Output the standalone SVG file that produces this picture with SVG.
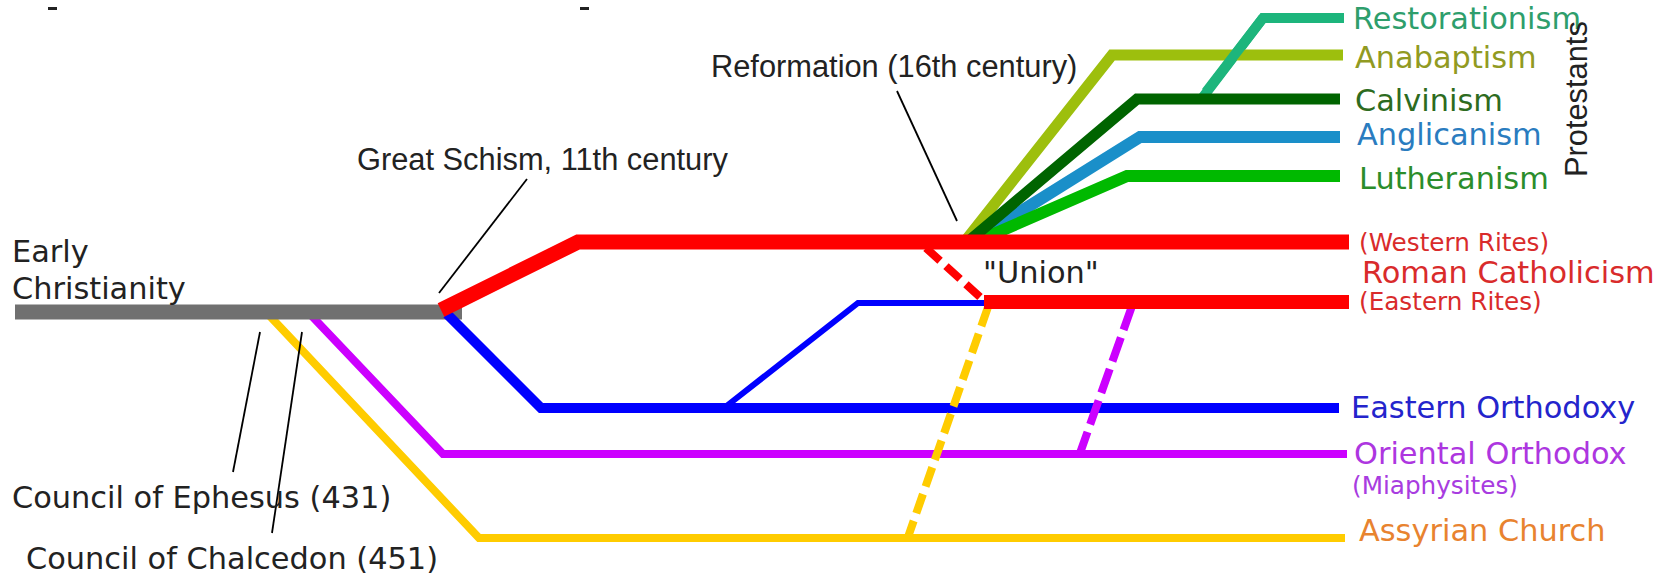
<svg xmlns="http://www.w3.org/2000/svg" width="1671" height="576" viewBox="0 0 1671 576">
<style>
.ln{fill:none;stroke-linejoin:miter;stroke-linecap:butt}
.ld{fill:none;stroke:#000;stroke-width:1.8}
.dv{font-family:"DejaVu Sans",sans-serif;font-size:30.4px}
.sm{font-family:"DejaVu Sans",sans-serif;font-size:24.7px}
.ls{font-family:"Liberation Sans",Arial,sans-serif;font-size:30.8px;fill:#222}
.bk{fill:#222}
</style>
<rect width="1671" height="576" fill="#fff"/>
<rect x="48" y="7" width="9" height="3" fill="#222"/>
<rect x="580" y="7" width="9" height="3" fill="#222"/>
<g id="connectors">
  <path class="ln" d="M266,312 L479,538 L1345,538" stroke="#ffcc00" stroke-width="8"/>
  <path class="ln" d="M308,312 L443,454 L1347,454" stroke="#cc00ff" stroke-width="8"/>
  <path class="ln" d="M15,312 L462,312" stroke="#707070" stroke-width="15"/>
  <path class="ln" d="M447,314 L541,408 L1339,408" stroke="#0000ff" stroke-width="10"/>
  <path class="ln" d="M724,408 L858,303 L986,303" stroke="#0000ff" stroke-width="6"/>
  <path class="ln" d="M988,307 L907,540" stroke="#ffcc00" stroke-width="8" stroke-dasharray="20.3 8"/>
  <path class="ln" d="M1132,306 L1079,456" stroke="#cc00ff" stroke-width="8" stroke-dasharray="25.4 8"/>
  <path class="ln" d="M1203,97 L1263,18 L1344,18" stroke="#1db57c" stroke-width="10"/>
  <path class="ln" d="M966,240 L1112,55 L1343,55" stroke="#9dbf0d" stroke-width="11"/>
  <path class="ln" d="M1206,92 L1263,18" stroke="#1db57c" stroke-width="10"/>
  <path class="ln" d="M975,240 L1140,137 L1340,137" stroke="#1a8fc9" stroke-width="12"/>
  <path class="ln" d="M980,240 L1127,176 L1340,176" stroke="#00b900" stroke-width="12"/>
  <path class="ln" d="M970,240 L1137,99 L1340,99" stroke="#006400" stroke-width="11"/>
  <path class="ln" d="M441,310 L578,242 L1349,242" stroke="#ff0000" stroke-width="15"/>
  <path class="ln" d="M984,302 L1349,302" stroke="#ff0000" stroke-width="14"/>
  <path class="ln" d="M926,248 L980,297" stroke="#ff0000" stroke-width="8" stroke-dasharray="19 8"/>
  <path class="ld" d="M527,179 L439,293"/>
  <path class="ld" d="M897,91 L957,221"/>
  <path class="ld" d="M260,332 L233,472"/>
  <path class="ld" d="M302,332 L272,533"/>
</g>
<g id="early"><text class="dv bk" x="12" y="262">Early</text><text class="dv bk" x="12" y="299">Christianity</text></g>
<g id="ephesus"><text class="dv bk" x="12" y="508">Council of Ephesus (431)</text></g>
<g id="chalcedon"><text class="dv bk" x="26" y="569">Council of Chalcedon (451)</text></g>
<g id="schism"><text class="ls" x="357" y="170">Great Schism, 11th century</text></g>
<g id="reformation"><text class="ls" x="711" y="77">Reformation (16th century)</text></g>
<g id="union"><text class="dv bk" x="983" y="283">"Union"</text></g>
<g id="restorationism"><text class="dv" x="1353" y="29" fill="#2e9e6c">Restorationism</text></g>
<g id="anabaptism"><text class="dv" x="1355" y="68" fill="#919a22">Anabaptism</text></g>
<g id="calvinism"><text class="dv" x="1355" y="111" fill="#2d6b20">Calvinism</text></g>
<g id="anglicanism"><text class="dv" x="1357" y="145" fill="#2a7cbf">Anglicanism</text></g>
<g id="lutheranism"><text class="dv" x="1359" y="189" fill="#2b8d2b">Lutheranism</text></g>
<g id="protestants"><text class="ls" transform="translate(1587,177) rotate(-90)" x="0" y="0">Protestants</text></g>
<g id="catholic">
  <text class="sm" x="1359" y="251" fill="#d92b2b">(Western Rites)</text>
  <text class="dv" x="1362" y="283" fill="#d92b2b">Roman Catholicism</text>
  <text class="sm" x="1359" y="310" fill="#d92b2b">(Eastern Rites)</text>
</g>
<g id="eastern-orthodoxy"><text class="dv" x="1351" y="418" fill="#2424cc">Eastern Orthodoxy</text></g>
<g id="oriental-orthodox">
  <text class="dv" x="1354" y="464" fill="#ad36e0">Oriental Orthodox</text>
  <text class="sm" x="1352" y="494" fill="#a83ce0">(Miaphysites)</text>
</g>
<g id="assyrian"><text class="dv" x="1359" y="541" fill="#e8832f">Assyrian Church</text></g>
</svg>
